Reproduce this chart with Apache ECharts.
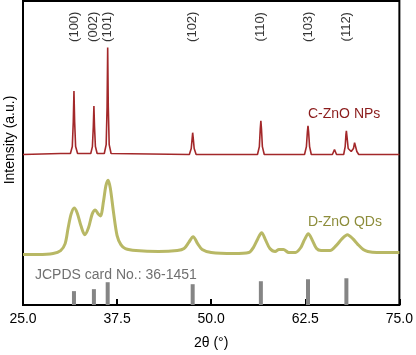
<!DOCTYPE html>
<html>
<head>
<meta charset="utf-8">
<script src="https://cdn.jsdelivr.net/npm/echarts@6/dist/echarts.min.js"></script>
<style>
  html, body { margin: 0; padding: 0; background: #fff; }
  #chart { width: 416px; height: 355px; }
</style>
</head>
<body>
<div id="chart"></div>
<script>
// 2θ ticks
const xTicks = [25.0, 37.5, 50.0, 62.5, 75.0];

// C-ZnO NPs pattern, [2θ, intensity (a.u.)]
const cZnO = [
  [25, 152], [30, 153],
  [31.3, 153], [31.55, 160], [31.68, 185], [31.77, 216], [31.86, 185], [31.99, 160], [32.25, 153],
  [34.0, 153], [34.22, 160], [34.34, 180], [34.42, 201], [34.5, 180], [34.62, 160], [34.85, 153],
  [35.8, 153], [36.05, 162], [36.17, 200], [36.25, 260], [36.33, 200], [36.45, 162], [36.7, 153],
  [47.1, 152], [47.35, 158], [47.47, 168], [47.54, 174], [47.62, 168], [47.74, 158], [48.0, 152],
  [56.15, 152], [56.4, 160], [56.52, 178], [56.6, 186], [56.68, 178], [56.8, 160], [57.05, 152],
  [62.4, 152], [62.65, 160], [62.78, 175], [62.86, 181], [62.94, 175], [63.07, 160], [63.3, 152],
  [66.1, 152], [66.38, 157], [66.65, 152],
  [67.6, 152], [67.8, 160], [67.9, 172], [67.96, 176], [68.04, 170], [68.2, 158], [68.6, 155],
  [68.9, 158], [69.05, 164], [69.15, 162], [69.35, 155], [69.6, 152],
  [72.4, 152], [72.6, 154], [72.85, 152],
  [75, 152]
];

// D-ZnO QDs pattern
const dZnO = [
  [25, 51], [27, 51], [29, 52], [30, 55], [30.6, 62], [31.0, 78], [31.4, 92], [31.8, 98],
  [32.2, 93], [32.7, 80], [33.2, 71], [33.7, 78], [34.2, 92], [34.6, 96], [35.0, 92], [35.3, 90],
  [35.7, 105], [36.0, 120], [36.3, 126], [36.6, 118], [37.0, 95], [37.5, 70], [38.0, 61],
  [38.6, 57], [40, 55], [43, 54], [45.5, 55], [46.4, 57], [47.0, 63], [47.6, 69], [48.2, 62],
  [48.8, 56], [50, 53], [53, 52], [55.0, 53], [55.6, 58], [56.2, 67], [56.7, 73], [57.2, 66],
  [57.8, 57], [58.5, 54], [59.0, 56], [59.6, 56], [60.3, 53], [61.2, 53], [61.9, 58], [62.4, 66],
  [62.9, 72], [63.4, 66], [64.0, 57], [64.6, 55], [65.8, 55], [66.6, 60], [67.4, 67], [68.1, 71],
  [68.8, 67], [69.5, 61], [70.2, 56], [70.8, 54], [72, 53], [75, 53]
];

// JCPDS 36-1451 reference lines
const refPos = [31.77, 34.42, 36.25, 47.54, 56.60, 62.86, 67.96];
const refHeight = [14, 16, 23, 21, 24, 26, 27];
const hkl = ['(100)', '(002)', '(101)', '(102)', '(110)', '(103)', '(112)'];
const hklLevel = 281;

const font = 'Liberation Sans, Arial, Helvetica, sans-serif';
const chart = echarts.init(document.getElementById('chart'));

const option = {
  animation: false,
  backgroundColor: '#fff',
  grid: {
    left: 23, right: 14, top: 1, bottom: 47,
    show: true, borderColor: '#000', borderWidth: 2
  },
  xAxis: {
    type: 'value',
    min: xTicks[0],
    max: xTicks[xTicks.length - 1],
    interval: 12.5,
    name: '2θ (°)',
    nameLocation: 'middle',
    nameGap: 31,
    nameTextStyle: { fontSize: 14, color: '#000', fontFamily: font },
    axisLine: { show: false },
    axisTick: { show: true, inside: true, length: 6, lineStyle: { color: '#000', width: 2 } },
    axisLabel: {
      fontSize: 14, color: '#000', fontFamily: font, margin: 7,
      formatter: v => v.toFixed(1)
    },
    splitLine: { show: false }
  },
  yAxis: {
    type: 'value',
    min: 0,
    max: 307,
    axisLine: { show: false },
    axisTick: { show: false },
    axisLabel: { show: false },
    splitLine: { show: false }
  },
  graphic: [
    {
      type: 'text', x: 10, y: 140, rotation: Math.PI / 2,
      style: { text: 'Intensity (a.u.)', fontSize: 14, fontFamily: font, fill: '#000', align: 'center', verticalAlign: 'middle' }
    },
    {
      type: 'text', x: 308, y: 114,
      style: { text: 'C-ZnO NPs', fontSize: 14, fontFamily: font, fill: '#8b1c1c', align: 'left', verticalAlign: 'middle' }
    },
    {
      type: 'text', x: 308, y: 222,
      style: { text: 'D-ZnO QDs', fontSize: 14, fontFamily: font, fill: '#8d8d3b', align: 'left', verticalAlign: 'middle' }
    },
    {
      type: 'text', x: 35, y: 275,
      style: { text: 'JCPDS card No.: 36-1451', fontSize: 14, fontFamily: font, fill: '#707070', align: 'left', verticalAlign: 'middle' }
    }
  ],
  series: [
    {
      name: 'C-ZnO NPs',
      type: 'line',
      data: cZnO,
      showSymbol: false,
      lineStyle: { color: '#a3282a', width: 1.6 },
      z: 3
    },
    {
      name: 'D-ZnO QDs',
      type: 'line',
      data: dZnO,
      showSymbol: false,
      smooth: 0.3,
      lineStyle: { color: '#b8b865', width: 3 },
      z: 3
    },
    {
      name: 'JCPDS',
      type: 'bar',
      data: refPos.map((p, i) => [p, refHeight[i]]),
      barWidth: 4,
      itemStyle: { color: '#858585' },
      z: 2
    },
    {
      name: 'hkl',
      type: 'scatter',
      data: refPos.map(p => [p, hklLevel]),
      symbolSize: 0,
      label: {
        show: true,
        position: 'inside',
        rotate: 90,
        fontSize: 13,
        fontFamily: font,
        color: '#000',
        formatter: p => hkl[p.dataIndex]
      },
      z: 4
    }
  ]
};

chart.setOption(option);
</script>
</body>
</html>
